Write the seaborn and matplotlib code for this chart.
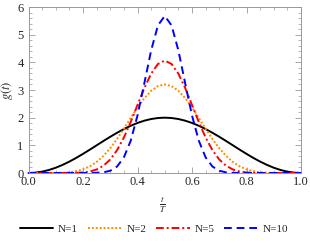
import numpy as np
import pandas as pd
import matplotlib
matplotlib.use("Agg")
import matplotlib.pyplot as plt
import seaborn as sns
from matplotlib.ticker import MultipleLocator

t = [0.0, 0.025, 0.05, 0.075, 0.1, 0.125, 0.15, 0.175, 0.2, 0.225, 0.25,
     0.275, 0.3, 0.325, 0.35, 0.375, 0.4, 0.425, 0.45, 0.475, 0.5,
     0.525, 0.55, 0.575, 0.6, 0.625, 0.65, 0.675, 0.7, 0.725, 0.75,
     0.775, 0.8, 0.825, 0.85, 0.875, 0.9, 0.925, 0.95, 0.975, 1.0]

g_n1 = [0.0, 0.0123, 0.0489, 0.109, 0.191, 0.2929, 0.4122, 0.546, 0.691, 0.8436, 1.0,
        1.1564, 1.309, 1.454, 1.5878, 1.7071, 1.809, 1.891, 1.9511, 1.9877, 2.0,
        1.9877, 1.9511, 1.891, 1.809, 1.7071, 1.5878, 1.454, 1.309, 1.1564, 1.0,
        0.8436, 0.691, 0.546, 0.4122, 0.2929, 0.191, 0.109, 0.0489, 0.0123, 0.0]

g_n2 = [0.0, 0.0, 0.00005, 0.0005, 0.0028, 0.0101, 0.028, 0.0651, 0.132, 0.2401, 0.4,
        0.6186, 0.8972, 1.2296, 1.6012, 1.99, 2.368, 2.7048, 2.9708, 3.1413, 3.2,
        3.1413, 2.9708, 2.7048, 2.368, 1.99, 1.6012, 1.2296, 0.8972, 0.6186, 0.4,
        0.2401, 0.132, 0.0651, 0.028, 0.0101, 0.0028, 0.0005, 0.00005, 0.0, 0.0]

g_n5 = [0.0, 0.0, 0.0, 0.0, 0.00003, 0.0003, 0.0015, 0.0062, 0.02, 0.0542, 0.127,
        0.2626, 0.4881, 0.8252, 1.2815, 1.841, 2.4602, 3.0706, 3.5901, 3.94, 4.0635,
        3.94, 3.5901, 3.0706, 2.4602, 1.841, 1.2815, 0.8252, 0.4881, 0.2626, 0.127,
        0.0542, 0.02, 0.0062, 0.0015, 0.0003, 0.00003, 0.0, 0.0, 0.0, 0.0]

g_n10 = [0.0, 0.0, 0.0, 0.0, 0.0, 0.0, 0.0, 0.00001, 0.0001, 0.001, 0.0055,
         0.0237, 0.0819, 0.234, 0.5644, 1.1649, 2.0803, 3.2406, 4.4299, 5.3356, 5.6754,
         5.3356, 4.4299, 3.2406, 2.0803, 1.1649, 0.5644, 0.234, 0.0819, 0.0237, 0.0055,
         0.001, 0.0001, 0.00001, 0.0, 0.0, 0.0, 0.0, 0.0, 0.0, 0.0]

labels = ["N=1", "N=2", "N=5", "N=10"]
colors = ["black", "#ff8c00", "#ff0000", "#0000ff"]
dashes = [(None, None), (1, 1), (4, 1.5, 1, 1.5), (4, 2.5)]

sns.set_style("ticks")
plt.rcParams["font.family"] = ["Liberation Serif", "DejaVu Serif"]
plt.rcParams["mathtext.fontset"] = "stix"

fig = plt.figure(figsize=(3.1, 2.43), dpi=100)
ax = fig.add_axes([28.5 / 310, 1 - 173 / 243, 272.5 / 310, 166 / 243])

for y, lab, c, d in zip([g_n1, g_n2, g_n5, g_n10], labels, colors, dashes):
    df = pd.DataFrame({"t": t, "g": y})
    sns.lineplot(data=df, x="t", y="g", ax=ax, color=c, lw=1.4, label=lab)
    ln = ax.get_lines()[-1]
    if d[0] is not None:
        ln.set_dashes(d)
    ln.set_clip_on(False)

ax.set_xlim(0, 1)
ax.set_ylim(0, 6)
ax.xaxis.set_major_locator(MultipleLocator(0.2))
ax.xaxis.set_minor_locator(MultipleLocator(0.05))
ax.yaxis.set_major_locator(MultipleLocator(1))
ax.yaxis.set_minor_locator(MultipleLocator(0.2))
ax.xaxis.set_major_formatter(matplotlib.ticker.FormatStrFormatter("%.1f"))
ax.tick_params(which="both", direction="in", top=True, right=True,
               labelsize=9, color="#999999")
ax.tick_params(axis="x", pad=2)
ax.tick_params(axis="y", pad=3.5)
ax.tick_params(which="major", length=4, width=0.6)
ax.tick_params(which="minor", length=2, width=0.5)
for s in ax.spines.values():
    s.set_color("#999999")
    s.set_linewidth(0.7)

ax.set_xlabel("")
ax.set_ylabel(r"$g(t)$", fontsize=9, labelpad=2)
fig.text(163 / 310, 1 - 205 / 243, r"$\frac{t}{T}$", fontsize=9,
         ha="center", va="center")

ax.get_legend().remove()
handles, labs = ax.get_legend_handles_labels()
fig.legend(handles, labs, loc="center", bbox_to_anchor=(154 / 310, 1 - 229 / 243),
           ncol=4, frameon=False, fontsize=8, handlelength=3.0,
           handletextpad=0.45, columnspacing=0.9)

fig.savefig("out.png", dpi=100)
